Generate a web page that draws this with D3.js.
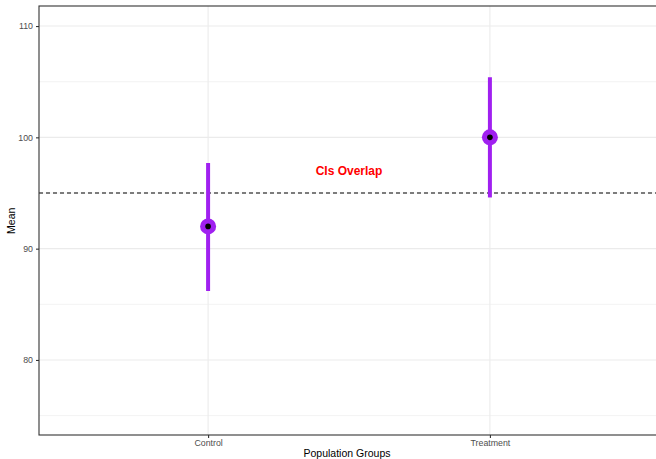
<!DOCTYPE html>
<html>
<head>
<meta charset="utf-8">
<script src="https://cdn.jsdelivr.net/npm/d3@7"></script>
<style>
  body { margin: 0; background: #fff; }
  svg { display: block; font-family: "Liberation Sans", Arial, sans-serif; }
</style>
</head>
<body>
<div id="chart"></div>
<script>
// data
const groups = ["Control", "Treatment"];
const means = [92, 100];
const lower = [86.2, 94.6];
const upper = [97.7, 105.4];
const refLine = 95;
const yMajor = [80, 90, 100, 110];
const yMinor = [75, 85, 95, 105];
const note = {label: "CIs Overlap", pos: 1.5, value: 97};

const width = 656, height = 459;
const margin = {top: 6, right: -3, bottom: 24, left: 39};

const svg = d3.select("#chart").append("svg")
    .attr("width", width)
    .attr("height", height);

// discrete x scale with ggplot-like 0.6 expansion
let x = d3.scaleLinear()
    .domain([0.4, groups.length + 0.6])
    .range([margin.left, width - margin.right]);
let y = d3.scaleLinear()
    .domain([73.26, 111.8])
    .range([height - margin.bottom, margin.top]);

let g = svg.append("g");

// minor grid
g.selectAll(".minor").data(yMinor).enter().append("line")
    .attr("x1", margin.left).attr("x2", width)
    .attr("y1", d => y(d)).attr("y2", d => y(d))
    .attr("stroke", "#ebebeb").attr("stroke-width", 0.6);

// major grid
g.selectAll(".major").data(yMajor).enter().append("line")
    .attr("x1", margin.left).attr("x2", width)
    .attr("y1", d => y(d)).attr("y2", d => y(d))
    .attr("stroke", "#ebebeb").attr("stroke-width", 1.1);

g.selectAll(".vmajor").data(groups).enter().append("line")
    .attr("x1", (d, i) => x(i + 1)).attr("x2", (d, i) => x(i + 1))
    .attr("y1", margin.top).attr("y2", height - margin.bottom)
    .attr("stroke", "#ebebeb").attr("stroke-width", 1.1);

// reference line
g.append("line")
    .attr("x1", margin.left).attr("x2", width)
    .attr("y1", y(refLine)).attr("y2", y(refLine))
    .attr("stroke", "#000").attr("stroke-width", 1.1)
    .attr("stroke-dasharray", "4,3");

// error bars
g.selectAll(".ci").data(groups).enter().append("line")
    .attr("x1", (d, i) => x(i + 1)).attr("x2", (d, i) => x(i + 1))
    .attr("y1", (d, i) => y(lower[i])).attr("y2", (d, i) => y(upper[i]))
    .attr("stroke", "#A020F0").attr("stroke-width", 4);

g.selectAll(".pt").data(groups).enter().append("circle")
    .attr("cx", (d, i) => x(i + 1)).attr("cy", (d, i) => y(means[i]))
    .attr("r", 8).attr("fill", "#A020F0");

g.selectAll(".dot").data(groups).enter().append("circle")
    .attr("cx", (d, i) => x(i + 1)).attr("cy", (d, i) => y(means[i]))
    .attr("r", 2.8).attr("fill", "#000");

// annotation
g.append("text")
    .attr("x", x(note.pos)).attr("y", y(note.value))
    .attr("dy", "0.35em")
    .attr("text-anchor", "middle")
    .attr("fill", "#ff0000")
    .attr("font-size", "12px")
    .attr("font-weight", "bold")
    .text(note.label);

// panel border
g.append("rect")
    .attr("x", margin.left).attr("y", margin.top)
    .attr("width", width - margin.right - margin.left)
    .attr("height", height - margin.bottom - margin.top)
    .attr("fill", "none").attr("stroke", "#333").attr("stroke-width", 1.1);

// axes
let yAxis = svg.append("g")
    .attr("transform", "translate(" + margin.left + ",0)")
    .call(d3.axisLeft(y).tickValues(yMajor).tickSize(3).tickPadding(3));
let xAxis = svg.append("g")
    .attr("transform", "translate(0," + (height - margin.bottom) + ")")
    .call(d3.axisBottom(x).tickValues([1, 2]).tickFormat((d, i) => groups[i]).tickSize(3).tickPadding(2));

[xAxis, yAxis].forEach(a => {
    a.select(".domain").remove();
    a.selectAll(".tick line").attr("stroke", "#333").attr("stroke-width", 1.1);
    a.selectAll(".tick text").attr("fill", "#4d4d4d").attr("font-size", "8.8px")
        .attr("font-family", "Liberation Sans, Arial, sans-serif");
});

// axis titles
svg.append("text")
    .attr("x", (margin.left + width) / 2 - 0.5).attr("y", 457)
    .attr("text-anchor", "middle")
    .attr("font-size", "10.5px")
    .text("Population Groups");

svg.append("text")
    .attr("transform", "translate(15," + y(92.5) + ") rotate(-90)")
    .attr("text-anchor", "middle")
    .attr("font-size", "10.5px")
    .text("Mean");
</script>
</body>
</html>
